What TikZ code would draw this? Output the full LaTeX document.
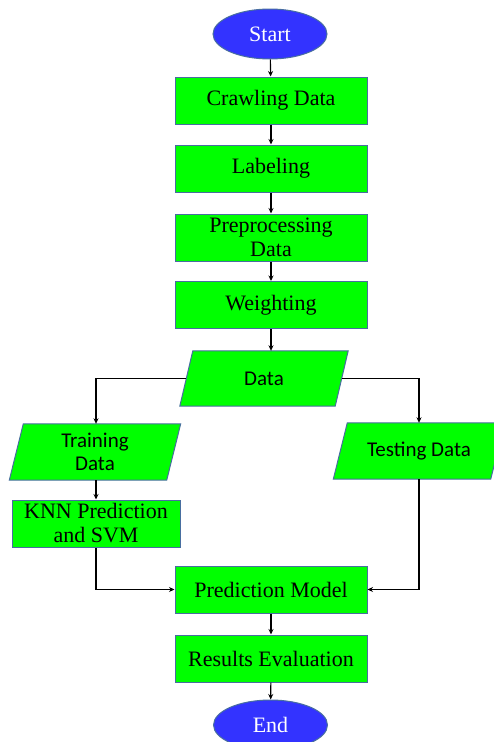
\documentclass[tikz,border=0pt]{standalone}
\usepackage{fontspec}
\setmainfont{Liberation Serif}
\newfontfamily\paraFont{Carlito}
\usetikzlibrary{arrows.meta,shapes.geometric}

\definecolor{boxgreen}{RGB}{0,255,0}
\definecolor{edgeblue}{RGB}{72,110,160}
\definecolor{termblue}{RGB}{51,51,255}

\tikzset{
  procbox/.style={draw=edgeblue, line width=1pt, fill=boxgreen, minimum width=192pt,
    minimum height=47pt, inner sep=0pt, align=center, font=\fontsize{22}{24}\selectfont},
  terminal/.style={ellipse, draw=edgeblue, line width=1pt, fill=termblue, text=white,
    minimum width=114pt, minimum height=50pt, inner sep=0pt, font=\fontsize{22}{24}\selectfont},
  iobox/.style={minimum width=155pt, minimum height=55pt, inner sep=0pt, align=center,
    font=\paraFont\fontsize{21}{23}\selectfont},
  ioshape/.style={draw=edgeblue, line width=1pt, fill=boxgreen},
  flow/.style={line width=1.1pt, -{Stealth[length=5.5pt,width=5pt]}}
}

% parallelogram drawn around a named text node, slanted by #2
\newcommand{\ioframe}[2]{%
  \path[ioshape] ([xshift=#2]#1.north west) -- ([xshift=#2]#1.north east)
    -- ([xshift=-#2]#1.south east) -- ([xshift=-#2]#1.south west) -- cycle;}

\begin{document}
\begin{tikzpicture}[x=1pt,y=-1pt]
\useasboundingbox (0,0) rectangle (494,742);
\clip (0,0) rectangle (494,742);

\node[terminal] (start) at (270,34) {Start};
\node[procbox] (crawl) at (271,100.5) {Crawling Data};
\node[procbox] (label) at (271,168.5) {Labeling};
\node[procbox] (prep) at (271,237.5) {Preprocessing\\Data};
\node[procbox] (weight) at (271,305) {Weighting};

% input/output parallelograms
\node[iobox] (data) at (264,378.5) {};
\node[iobox, minimum width=157pt, minimum height=56pt] (train) at (95,452) {};
\node[iobox, minimum width=157pt, minimum height=56pt] (test) at (419,451) {};
\ioframe{data}{6.5pt}
\ioframe{train}{7pt}
\ioframe{test}{7pt}
\node[iobox] at (data) {Data};
\node[iobox] at (train) {Training\\Data};
\node[iobox] at (test) {Testing Data};

\node[procbox, minimum width=168pt] (knn) at (96,523.5) {KNN Prediction\\and SVM};
\node[procbox] (pred) at (271,589.5) {Prediction Model};
\node[procbox] (eval) at (271,658.5) {Results Evaluation};
\node[terminal] (end) at (270.5,725) {End};

% connectors
\draw[flow] (start) -- (crawl);
\draw[flow] (crawl) -- (label);
\draw[flow] (label) -- (prep);
\draw[flow] (prep) -- (weight);
\draw[flow] (weight.south) -- (weight.south |- data.north);
\draw[flow] (data.west) -| ([xshift=1pt]train.north);
\draw[flow] (data.east) -| (test.north);
\draw[flow] ([xshift=1pt]train.south) -- (knn.north);
\draw[flow] (knn.south) |- (pred.west);
\draw[flow] (test.south) |- (pred.east);
\draw[flow] (pred) -- (eval);
\draw[flow] (eval) -- (end);
\end{tikzpicture}
\end{document}
